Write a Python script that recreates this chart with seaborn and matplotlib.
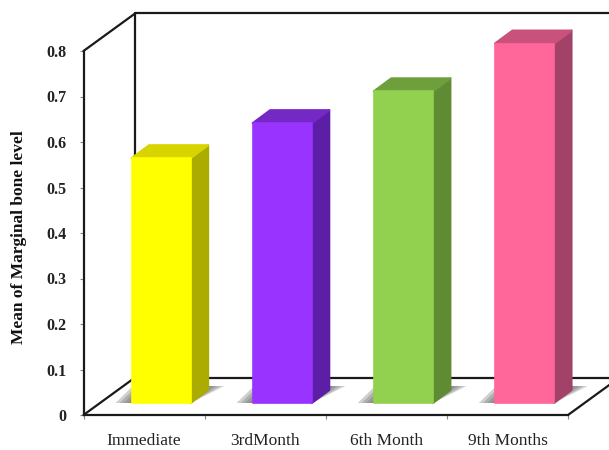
#!/usr/bin/env python3
"""Bar chart of marginal bone level, with a faux-3D box look."""

import matplotlib.pyplot as plt
import pandas as pd
import seaborn as sns
from matplotlib.patches import Polygon

CATEGORIES = ['Immediate', '3rdMonth', '6th Month', '9th Months']
VALUES = [0.538, 0.615, 0.685, 0.79]
Y_TICKS = [0, 0.1, 0.2, 0.3, 0.4, 0.5, 0.6, 0.7, 0.8]
Y_TICK_LABELS = ['0', '0.1', '0.2', '0.3', '0.4', '0.5', '0.6', '0.7', '0.8']

FRONT = ['#ffff00', '#9933ff', '#92d050', '#ff6699']
TOP = ['#d8d400', '#7429c4', '#6f9e3c', '#c9527c']
SIDE = ['#abab00', '#5c1ea6', '#5f8c33', '#a34268']

# pixels to data units
PX_X = 1 / 121
PX_Y = 0.8 / 364

WALL_DX, WALL_DY = 51.5 * PX_X, 37.5 * PX_Y
BAR_DX, BAR_DY = 17.5 * PX_X, 13 * PX_Y
BAR_SHIFT_X, BAR_SHIFT_Y = 17 * PX_X, 12 * PX_Y


def poly(ax, points, color, z, alpha=1.0, lw=1.5):
    ax.add_patch(Polygon(points, closed=True, facecolor=color, edgecolor=color,
                         linewidth=lw, joinstyle='round', alpha=alpha,
                         zorder=z, clip_on=False))


def draw_box(ax):
    x0, x1 = ax.get_xlim()
    y1 = ax.get_ylim()[1]
    back = dict(color='#1a1a1a', lw=1.6, zorder=1, clip_on=False)
    ax.plot([x0, x0 + WALL_DX], [0, WALL_DY], **back)
    ax.plot([x0, x0 + WALL_DX], [y1, y1 + WALL_DY], **back)
    ax.plot([x0 + WALL_DX, x0 + WALL_DX], [WALL_DY, y1 + WALL_DY], **back)
    ax.plot([x0 + WALL_DX, x1 + WALL_DX], [WALL_DY, WALL_DY], **back)
    ax.plot([x0 + WALL_DX, x1 + WALL_DX], [y1 + WALL_DY, y1 + WALL_DY], **back)
    ax.plot([x1, x1 + WALL_DX], [0, WALL_DY], **back)


def draw_bar_3d(ax, bar, top_color, side_color):
    left, right = bar.get_x(), bar.get_x() + bar.get_width()
    low, high = bar.get_y(), bar.get_y() + bar.get_height()

    # soft shadow on the floor, built up from a few layers
    for grow in (1.15, 0.85, 0.55, 0.25):
        pad_x = grow * 14 * PX_X
        poly(ax, [(left - pad_x, low),
                  (right, low),
                  (right + BAR_DX + pad_x, low + BAR_DY + 4 * PX_Y),
                  (left + BAR_DX - pad_x, low + BAR_DY + 4 * PX_Y)],
             '#6e6e6e', 1.5, alpha=0.33, lw=0)

    poly(ax, [(right, low), (right + BAR_DX, low + BAR_DY),
              (right + BAR_DX, high + BAR_DY), (right, high)], side_color, 2)
    poly(ax, [(left, high), (right, high),
              (right + BAR_DX, high + BAR_DY), (left + BAR_DX, high + BAR_DY)],
         top_color, 2)


def main():
    sns.set_style('white')
    plt.rcParams['font.family'] = ['Liberation Serif', 'DejaVu Serif']

    data = pd.DataFrame({'period': CATEGORIES, 'level': VALUES})
    fig = plt.figure(figsize=(6.09, 4.5), dpi=100)
    ax = fig.add_axes([83.5 / 609, 35 / 450, 484.5 / 609, 364 / 450])
    ax.patch.set_alpha(0)

    sns.barplot(data=data, x='period', y='level', hue='period', palette=FRONT,
                legend=False, width=59 / 121, saturation=1, ax=ax, zorder=3)

    ax.set_xlim(-0.5, 3.5)
    ax.set_ylim(0, 0.8)

    for bar, color, top, side in zip(ax.patches, FRONT, TOP, SIDE):
        bar.set_x(bar.get_x() + BAR_SHIFT_X)
        bar.set_y(BAR_SHIFT_Y)
        bar.set_clip_on(False)
        bar.set_edgecolor(color)
        bar.set_linewidth(1.2)
        bar.set_joinstyle('round')
        draw_bar_3d(ax, bar, top, side)

    draw_box(ax)

    for name in ('top', 'right'):
        ax.spines[name].set_visible(False)
    for name in ('left', 'bottom'):
        ax.spines[name].set_color('#1a1a1a')
        ax.spines[name].set_linewidth(1.6)
        ax.spines[name].set_zorder(4)

    ax.set_yticks(Y_TICKS, Y_TICK_LABELS, fontsize=11.5, fontweight='bold', color='#222222')
    ax.set_xticks([-0.5, 0.5, 1.5, 2.5, 3.5], [''] * 5)
    ax.tick_params(axis='both', length=3, width=0.8, color='#888888', left=True, bottom=True)
    ax.tick_params(axis='y', pad=9)
    for i, name in enumerate(CATEGORIES):
        ax.annotate(name, xy=(i, 0), xytext=(0, -18.7), textcoords='offset points',
                    ha='center', va='center', fontsize=12.5, color='#222222',
                    annotation_clip=False)

    ax.set_xlabel('')
    ax.set_ylabel('Mean of Marginal bone level', fontsize=12.5, fontweight='bold',
                  color='#111111')
    ax.yaxis.set_label_coords(-56.5 / 484.5, 0.49)

    fig.savefig('out.png', dpi=100)


if __name__ == '__main__':
    main()
